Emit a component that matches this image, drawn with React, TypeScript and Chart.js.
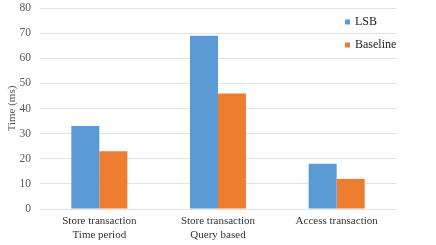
import React, { useEffect, useRef } from "react";
import { Chart, registerables } from "chart.js";

Chart.register(...registerables);

const categories: string[][] = [
  ["Store transaction", "Time period"],
  ["Store transaction", "Query based"],
  ["Access transaction"],
];
const lsbValues = [33, 69, 18];
const baselineValues = [23, 46, 12];
const yTicksMax = 80;
const yStep = 10;
const seriesLabels = ["LSB", "Baseline"];
const seriesColors = ["#5B9BD5", "#ED7D31"];

const FONT = '"Liberation Serif", serif';

const legendPlugin = {
  id: "insideLegend",
  afterDraw(chart: any) {
    const ctx = chart.ctx;
    ctx.save();
    ctx.font = `12px ${FONT}`;
    ctx.textBaseline = "middle";
    ctx.textAlign = "left";
    chart.data.datasets.forEach((ds: any, i: number) => {
      const x = 345;
      const y = 22 + i * 23;
      ctx.fillStyle = ds.backgroundColor;
      ctx.fillRect(x, y - 2.5, 5, 5);
      ctx.fillStyle = "#222";
      ctx.fillText(ds.label, x + 10, y);
    });
    ctx.restore();
  },
};

export default function App() {
  const ref = useRef<HTMLCanvasElement>(null);
  useEffect(() => {
    document.body.style.margin = "0";
    const chart = new Chart(ref.current!, {
      type: "bar",
      data: {
        labels: categories as any,
        datasets: [
          { label: seriesLabels[0], data: lsbValues, backgroundColor: seriesColors[0] },
          { label: seriesLabels[1], data: baselineValues, backgroundColor: seriesColors[1] },
        ],
      },
      options: {
        animation: false,
        responsive: false,
        maintainAspectRatio: false,
        layout: { padding: { top: 8, right: 40, left: 6, bottom: 0 } },
        datasets: { bar: { categoryPercentage: 0.472, barPercentage: 1.0 } },
        plugins: { legend: { display: false }, tooltip: { enabled: false } },
        scales: {
          x: {
            grid: { display: false, drawTicks: false },
            border: { display: false },
            ticks: {
              color: "#333",
              font: { family: FONT, size: 11 },
              padding: 6,
              maxRotation: 0,
              autoSkip: false,
            },
            afterFit: (s: any) => {
              s.height = 36;
              s.paddingLeft = 0;
              s.paddingRight = 0;
            },
          },
          y: {
            min: 0,
            max: yTicksMax,
            ticks: {
              stepSize: yStep,
              color: "#595959",
              font: { family: FONT, size: 11.5 },
              padding: 9,
            },
            grid: { color: "#e3e3e3", lineWidth: 1, drawTicks: false },
            border: { display: false },
            title: {
              display: true,
              text: "Time (ms)",
              color: "#595959",
              font: { family: FONT, size: 11 },
              padding: 0,
            },
            afterFit: (s: any) => {
              s.width = 34;
              s.paddingTop = 0;
              s.paddingBottom = 0;
            },
          },
        },
      },
      plugins: [legendPlugin],
    });
    return () => chart.destroy();
  }, []);
  return (
    <div style={{ width: 436, height: 245 }}>
      <canvas ref={ref} width={436} height={245} />
    </div>
  );
}
